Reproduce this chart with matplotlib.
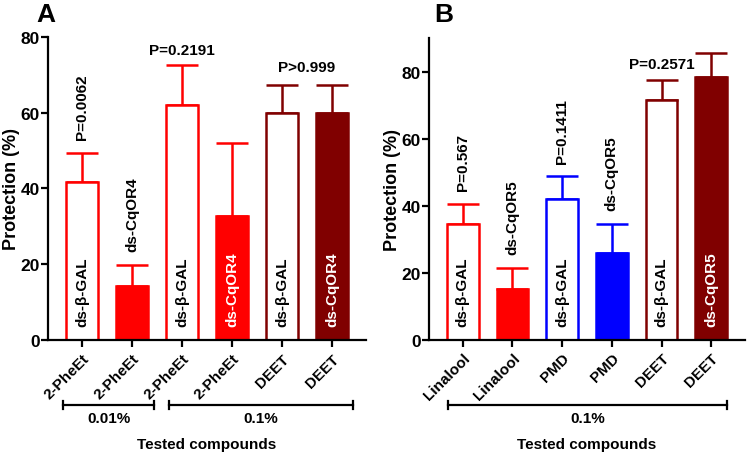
import numpy as np
import matplotlib
matplotlib.use("Agg")
import matplotlib.pyplot as plt
import matplotlib.transforms as mtransforms

plt.rcParams['font.family'] = ['Liberation Sans', 'DejaVu Sans']
plt.rcParams['font.weight'] = 'bold'

# Datos panel A
compuestosA = ["2-PheEt", "2-PheEt", "2-PheEt", "2-PheEt", "DEET", "DEET"]
mediasA = [41.7, 14.3, 62.0, 32.8, 60.0, 60.0]
erroresA = [7.7, 5.6, 10.5, 19.2, 7.2, 7.2]
tratamientosA = ["ds-β-GAL", "ds-CqOR4", "ds-β-GAL", "ds-CqOR4", "ds-β-GAL", "ds-CqOR4"]

# Datos panel B
compuestosB = ["Linalool", "Linalool", "PMD", "PMD", "DEET", "DEET"]
mediasB = [34.5, 15.1, 42.0, 26.0, 71.5, 78.5]
erroresB = [6.0, 6.3, 6.7, 8.4, 6.0, 7.0]
tratamientosB = ["ds-β-GAL", "ds-CqOR5", "ds-β-GAL", "ds-CqOR5", "ds-β-GAL", "ds-CqOR5"]

ROJO = "#FF0000"
AZUL = "#0000FF"
GRANATE = "#800000"
coloresA = [ROJO, ROJO, ROJO, ROJO, GRANATE, GRANATE]
coloresB = [ROJO, ROJO, AZUL, AZUL, GRANATE, GRANATE]
rellenos = [False, True, False, True, False, True]
dentroA = [True, False, True, True, True, True]
dentroB = [True, False, True, False, True, True]

FS = 11


def panel(ax, compuestos, medias, errores, tratamientos, colores, dentro, ymax):
    x = np.arange(len(medias))
    for i in range(len(medias)):
        cara = colores[i] if rellenos[i] else "white"
        ax.bar(x[i], medias[i], width=0.64, color=cara, edgecolor=colores[i],
               linewidth=1.8, zorder=2)
        ax.errorbar(x[i], medias[i], yerr=[[0], [errores[i]]], fmt="none",
                    ecolor=colores[i], elinewidth=1.8, capsize=11.5,
                    capthick=1.8, zorder=1)
        if dentro[i]:
            col = "white" if rellenos[i] else "black"
            ax.annotate(tratamientos[i], (x[i], 0), xytext=(0, 10),
                        textcoords="offset points", rotation=90, ha="center",
                        va="bottom", color=col, fontsize=FS, fontweight="bold")
        else:
            ax.annotate(tratamientos[i], (x[i], medias[i] + errores[i]),
                        xytext=(0, 10), textcoords="offset points", rotation=90,
                        ha="center", va="bottom", color="black", fontsize=FS,
                        fontweight="bold")
    ax.set_xlim(-0.68, len(medias) - 0.32)
    ax.set_ylim(0, ymax)
    ax.set_yticks([0, 20, 40, 60, 80])
    ax.set_xticks(x)
    ax.set_xticklabels(compuestos, rotation=45, ha="right",
                       rotation_mode="anchor", fontsize=FS, fontweight="bold")
    for s in ["top", "right"]:
        ax.spines[s].set_visible(False)
    for s in ["left", "bottom"]:
        ax.spines[s].set_linewidth(1.6)
    ax.tick_params(width=1.6, length=5, pad=3)
    ax.tick_params(axis="y", labelsize=12.5, pad=0.8)
    ax.set_ylabel("Protection (%)", fontsize=13, fontweight="bold", labelpad=0.5)
    return x


def corchete(ax, x0, x1, y, texto):
    tr = mtransforms.blended_transform_factory(ax.transData, ax.transAxes)
    ax.plot([x0, x1], [y, y], color="black", lw=1.6, transform=tr, clip_on=False)
    for xx in [x0, x1]:
        ax.plot([xx, xx], [y - 0.013, y + 0.013], color="black", lw=1.6,
                transform=tr, clip_on=False)
    ax.text((x0 + x1) / 2, y - 0.045, texto, transform=tr, ha="center",
            va="center", fontsize=FS, fontweight="bold")


fig = plt.figure(figsize=(7.5, 4.56), dpi=100)
axA = fig.add_axes([0.064, 0.2522, 0.424, 0.6645])
axB = fig.add_axes([0.572, 0.2529, 0.4213, 0.6616])

xA = panel(axA, compuestosA, mediasA, erroresA, tratamientosA, coloresA, dentroA, 80)
xB = panel(axB, compuestosB, mediasB, erroresB, tratamientosB, coloresB, dentroB, 90)

# Valores P
axA.annotate("P=0.0062", (0, mediasA[0] + erroresA[0]), xytext=(0, 10),
             textcoords="offset points", rotation=90, ha="center", va="bottom",
             fontsize=FS, fontweight="bold")
axA.annotate("P=0.2191", (2, mediasA[2] + erroresA[2]), xytext=(0, 6),
             textcoords="offset points", ha="center", va="bottom",
             fontsize=FS, fontweight="bold")
axA.annotate("P>0.999", (4.5, mediasA[4] + erroresA[4]), xytext=(0, 8),
             textcoords="offset points", ha="center", va="bottom",
             fontsize=FS, fontweight="bold")
axB.annotate("P=0.567", (0, mediasB[0] + erroresB[0]), xytext=(0, 10),
             textcoords="offset points", rotation=90, ha="center", va="bottom",
             fontsize=FS, fontweight="bold")
axB.annotate("P=0.1411", (2, mediasB[2] + erroresB[2]), xytext=(0, 10),
             textcoords="offset points", rotation=90, ha="center", va="bottom",
             fontsize=FS, fontweight="bold")
axB.annotate("P=0.2571", (4, mediasB[4] + erroresB[4]), xytext=(0, 6.5),
             textcoords="offset points", ha="center", va="bottom",
             fontsize=FS, fontweight="bold")

# Corchetes de concentracion
corchete(axA, -0.38, 1.44, -0.2135, "0.01%")
corchete(axA, 1.74, 5.42, -0.2135, "0.1%")
corchete(axB, -0.29, 5.31, -0.2154, "0.1%")

axA.text(0.5, -0.343, "Tested compounds", transform=axA.transAxes, ha="center",
         va="center", fontsize=FS, fontweight="bold")
axB.text(0.5, -0.345, "Tested compounds", transform=axB.transAxes, ha="center",
         va="center", fontsize=FS, fontweight="bold")

fig.text(0.061, 0.968, "A", fontsize=19, fontweight="bold", ha="center", va="center")
fig.text(0.591, 0.968, "B", fontsize=19, fontweight="bold", ha="center", va="center")

fig.savefig("out.png", dpi=100)
